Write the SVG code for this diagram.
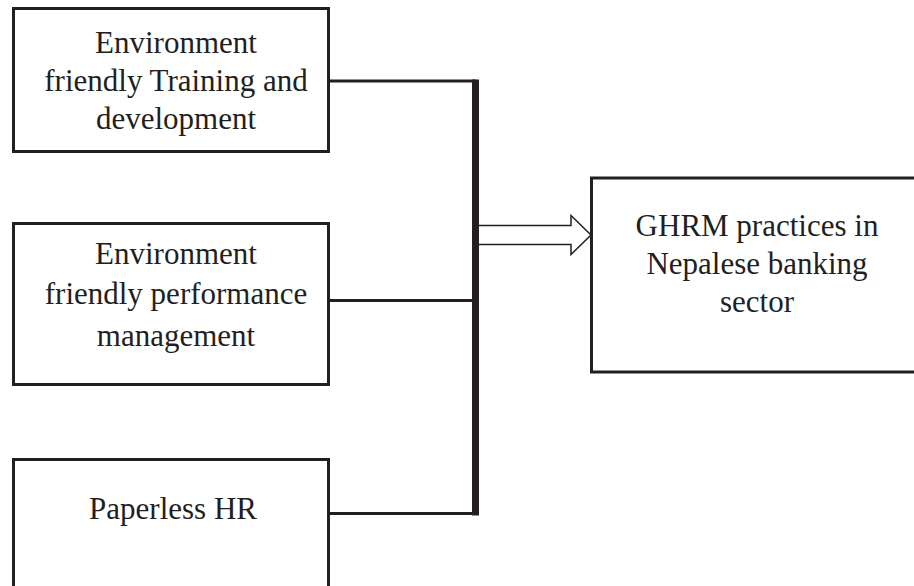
<svg xmlns="http://www.w3.org/2000/svg" width="914" height="586" viewBox="0 0 914 586">
<style>
.box{fill:#fff;stroke:#231f20;stroke-width:3}
.t{font-family:"Liberation Serif","Times New Roman",serif;font-size:31px;fill:#231f20;text-anchor:middle}
.ln{stroke:#231f20;stroke-width:3;fill:none}
</style>
<rect width="914" height="586" fill="#fff"/>
<g id="connectors">
<line class="ln" x1="328" y1="81" x2="476" y2="81"/>
<line class="ln" x1="328" y1="300.5" x2="476" y2="300.5"/>
<line class="ln" x1="328" y1="513.5" x2="476" y2="513.5"/>
<rect x="472" y="79.5" width="7" height="436" fill="#231f20"/>
<path d="M479,225.5 H571 V215.5 L591,235 L571,254.5 V244.5 H479" fill="#fff" stroke="#231f20" stroke-width="1.5"/>
</g>
<g id="n1">
<rect class="box" x="13.5" y="8.5" width="315" height="143"/>
<text class="t" x="176" y="53">Environment</text>
<text class="t" x="176" y="91">friendly Training and</text>
<text class="t" x="176" y="129">development</text>
</g>
<g id="n2">
<rect class="box" x="13.5" y="223.5" width="315" height="161"/>
<text class="t" x="176" y="264">Environment</text>
<text class="t" x="176" y="304">friendly performance</text>
<text class="t" x="176" y="346">management</text>
</g>
<g id="n3">
<rect class="box" x="13.5" y="459.5" width="315" height="140"/>
<text class="t" x="173" y="519">Paperless HR</text>
</g>
<g id="n4">
<rect class="box" x="591.5" y="178" width="340" height="194"/>
<text class="t" x="757" y="236">GHRM practices in</text>
<text class="t" x="757" y="274">Nepalese banking</text>
<text class="t" x="757" y="312">sector</text>
</g>
</svg>
